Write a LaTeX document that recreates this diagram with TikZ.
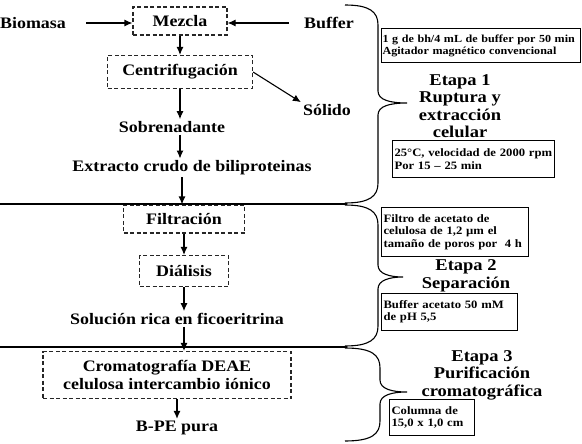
\documentclass[tikz,border=0pt]{standalone}
\usepackage{fontspec}
\setmainfont{Liberation Serif}[FakeStretch=1.12]
\usetikzlibrary{arrows.meta}
\newcommand\letraprincipal{\fontsize{16}{17.5}\selectfont\bfseries}
\newcommand\letranota{\fontsize{11.3}{12.3}\selectfont\bfseries}
\newcommand\letraetapa{\fontsize{16.5}{17.5}\selectfont\bfseries}

\begin{document}
\begin{tikzpicture}[x=1pt, y=-1pt,
    caja/.style={draw=black!85, line width=1.1pt, dash pattern=on 4pt off 2.5pt, font=\letraprincipal, align=center, inner sep=2pt},
    texto/.style={font=\letraprincipal, inner sep=2pt},
    nota/.style={draw, line width=1.1pt, anchor=north west, align=left, font=\letranota, inner sep=2pt},
    etapa/.style={align=center, font=\letraetapa},
    flecha/.style={-{Latex[length=8pt, width=7pt]}, line width=1.1pt}]
    \useasboundingbox (0,0) rectangle (582,444);

    % columna del proceso
    \node[caja, minimum width=94pt, minimum height=28pt] (mezcla) at (180,21) {Mezcla};
    \node[texto] (biomasa) at (33,23) {Biomasa};
    \node[texto] (buffer) at (329,23) {Buffer};
    \node[caja, minimum width=145pt, minimum height=33pt] (centri) at (180,72) {Centrifugación};
    \node[texto] (solido) at (327,110) {Sólido};
    \node[texto] (sobre) at (172,127) {Sobrenadante};
    \node[texto] (extracto) at (192,168) {Extracto crudo de biliproteinas};
    \node[caja, minimum width=121pt, minimum height=28pt] (filtr) at (184,219) {Filtración};
    \node[caja, minimum width=89pt, minimum height=31pt] (dialisis) at (184,271) {Diálisis};
    \node[texto] (solucion) at (177,319) {Solución rica en ficoeritrina};
    \node[caja, minimum width=248pt, minimum height=47pt] (cromato) at (167,375) {Cromatografía DEAE\\celulosa intercambio iónico};
    \node[texto] (bpe) at (177,428) {B-PE pura};

    \draw[flecha, shorten <=18pt] (biomasa) -- (biomasa -| mezcla.west);
    \draw[flecha, shorten <=13pt] (buffer) -- (buffer -| mezcla.east);
    \draw[flecha] (mezcla.south) -- (mezcla.south |- centri.north);
    \draw[flecha] (centri.east) -- (solido.north west);
    \draw[flecha] (centri.south) -- (centri.south |- sobre.north);
    \draw[flecha] (centri.south |- sobre.south) -- (centri.south |- extracto.north);
    \draw[flecha] (extracto.south -| 182,0) -- (182,0 |- filtr.north);
    \draw[flecha] (filtr.south) -- (dialisis.north);
    \draw[flecha] (dialisis.south) -- (dialisis.south |- solucion.north);
    \draw[flecha] (dialisis.south |- solucion.south) -- (dialisis.south |- cromato.north);
    \draw[flecha] (cromato.south -| bpe) -- (bpe.north);

    % separadores y llaves
    \draw[line width=1.1pt] (0,204) -- (347,204);
    \draw[line width=1.1pt] (0,347) -- (347,347);
    \foreach \ya/\ym/\yb/\xs/\xt in {5/103/203/378/407, 205/277/346/378/403, 348/392/441/380/407} {
        \draw[line width=1.1pt] (345,\ya) .. controls (\xs-8,\ya) and (\xs,\ya+7) .. (\xs,\ya+20)
            -- (\xs,\ym-12) .. controls (\xs,\ym-3) and (\xs+12,\ym) .. (\xt,\ym)
            .. controls (\xs+12,\ym) and (\xs,\ym+3) .. (\xs,\ym+12)
            -- (\xs,\yb-20) .. controls (\xs,\yb-7) and (\xs-8,\yb) .. (345,\yb);
    }

    % notas y etapas
    \node[nota, text width=197pt, inner sep=1pt, minimum height=34pt, font=\fontsize{10.8}{12.3}\selectfont\bfseries] (nota1) at (381,28) {1 g de bh/4 mL de buffer por 50 min\\Agitador magnético convencional};
    \node[etapa] (etapa1) at (460,106) {Etapa 1\\Ruptura y\\extracción\\celular};
    \node[nota, text width=158pt, minimum height=37pt] (nota2) at (392,140) {25°C, velocidad de 2000 rpm\\Por 15 – 25 min};
    \node[nota, text width=143pt, minimum height=49pt] (nota3) at (381,207) {Filtro de acetato de\\celulosa de 1,2 µm el\\tamaño de poros por \ 4 h};
    \node[etapa] (etapa2) at (466,276) {Etapa 2\\Separación};
    \node[nota, text width=132pt, minimum height=37pt] (nota4) at (381,293) {Buffer acetato 50 mM\\de pH 5,5};
    \node[etapa] (etapa3) at (482,375) {Etapa 3\\Purificación\\cromatográfica};
    \node[nota, text width=81pt, minimum height=36pt] (nota5) at (389,399) {Columna de\\15,0 x 1,0 cm};
\end{tikzpicture}
\end{document}
